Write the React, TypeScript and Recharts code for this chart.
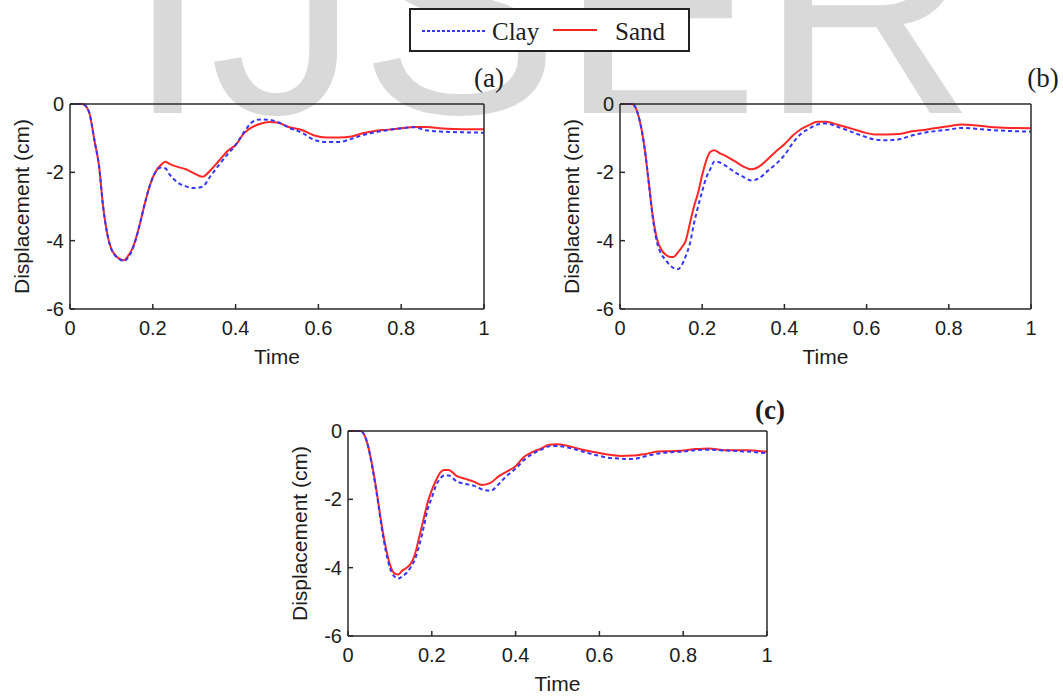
import React from "react";
import { LineChart, Line, XAxis, YAxis, Label } from "recharts";

// sample times shared by all three panels
const times = [
  0, 0.03, 0.045, 0.06, 0.07, 0.08, 0.09, 0.1, 0.11, 0.12,
  0.13, 0.14, 0.15, 0.16, 0.17, 0.18, 0.19, 0.2, 0.21, 0.22,
  0.23, 0.24, 0.26, 0.28, 0.3, 0.32, 0.34, 0.36, 0.38, 0.4,
  0.42, 0.44, 0.46, 0.48, 0.5, 0.53, 0.56, 0.59, 0.62, 0.65,
  0.68, 0.71, 0.74, 0.77, 0.8, 0.83, 0.86, 0.9, 0.95, 1.0,
];

const sandA = [
  0, 0, -0.2, -1.13, -1.8, -3.0, -3.8, -4.25, -4.43, -4.53,
  -4.57, -4.45, -4.25, -3.9, -3.45, -2.95, -2.5, -2.15, -1.92, -1.78,
  -1.69, -1.75, -1.84, -1.91, -2.03, -2.13, -1.93, -1.66, -1.38, -1.2,
  -0.86, -0.68, -0.58, -0.53, -0.54, -0.68, -0.76, -0.92, -0.98, -0.98,
  -0.95, -0.85, -0.78, -0.75, -0.71, -0.67, -0.67, -0.72, -0.74, -0.74,
];
const clayA = [
  0, 0, -0.2, -1.13, -1.8, -3.0, -3.8, -4.25, -4.45, -4.55,
  -4.6, -4.5, -4.28, -3.92, -3.45, -2.95, -2.5, -2.15, -1.93, -1.86,
  -1.88, -2.05, -2.3, -2.41, -2.46, -2.42, -2.1, -1.78, -1.48, -1.2,
  -0.83, -0.53, -0.45, -0.46, -0.52, -0.7, -0.84, -1.05, -1.11, -1.11,
  -1.02, -0.9, -0.82, -0.76, -0.71, -0.68, -0.77, -0.81, -0.83, -0.84,
];

const sandB = [
  0, 0, -0.35, -1.3, -2.3, -3.3, -3.95, -4.25, -4.4, -4.47,
  -4.48, -4.36, -4.2, -4.0, -3.5, -3.0, -2.6, -2.08, -1.65, -1.4,
  -1.35, -1.42, -1.54, -1.68, -1.83, -1.91, -1.82, -1.61, -1.38, -1.18,
  -0.93, -0.74, -0.62, -0.52, -0.52, -0.61, -0.71, -0.82, -0.89, -0.89,
  -0.88, -0.8, -0.76, -0.7, -0.65, -0.6, -0.62, -0.67, -0.7, -0.71,
];
const clayB = [
  0, 0, -0.35, -1.3, -2.3, -3.35, -4.05, -4.38, -4.55, -4.7,
  -4.8, -4.84, -4.72, -4.45, -4.09, -3.5, -3.0, -2.55, -2.15, -1.9,
  -1.68, -1.7, -1.83, -2.0, -2.13, -2.24, -2.16, -1.95, -1.75, -1.5,
  -1.15, -0.88, -0.72, -0.6, -0.57, -0.67, -0.8, -0.93, -1.04, -1.06,
  -1.03, -0.92, -0.84, -0.79, -0.75, -0.7, -0.72, -0.76, -0.79, -0.81,
];

const sandC = [
  0, 0, -0.31, -1.15, -1.9, -2.72, -3.4, -3.9, -4.16, -4.2,
  -4.08, -4.0, -3.88, -3.6, -3.1, -2.6, -2.1, -1.73, -1.45, -1.22,
  -1.14, -1.14, -1.32, -1.4, -1.48, -1.58, -1.52, -1.32, -1.18, -1.03,
  -0.76, -0.62, -0.52, -0.4, -0.39, -0.45, -0.55, -0.62, -0.69, -0.73,
  -0.72, -0.67, -0.6, -0.59, -0.57, -0.53, -0.51, -0.56, -0.56, -0.61,
];
const clayC = [
  0, 0, -0.31, -1.2, -1.95, -2.8, -3.5, -4.0, -4.25, -4.32,
  -4.25, -4.15, -3.98, -3.75, -3.35, -2.85, -2.3, -1.95, -1.6, -1.39,
  -1.3, -1.3, -1.48, -1.55, -1.6, -1.71, -1.75, -1.55, -1.3, -1.1,
  -0.85, -0.67, -0.55, -0.45, -0.44, -0.5, -0.6, -0.7, -0.78, -0.81,
  -0.82, -0.74, -0.66, -0.62, -0.6, -0.56, -0.55, -0.57, -0.6, -0.65,
];

const xTicks = [0, 0.2, 0.4, 0.6, 0.8, 1];
const yTicks = [-6, -4, -2, 0];

const CLAY = "#3535ff";
const SAND = "#ff2626";
const INK = "#1c1c1c";
const SANS = "'Liberation Sans', Arial, sans-serif";
const SERIF = "'Liberation Serif', 'Times New Roman', serif";

const axisStyle = { stroke: "#2a2a2a", strokeWidth: 1.5 };
const tickStyle = { stroke: "#2a2a2a", strokeWidth: 1.5 };
const tickText = { fontSize: 20, fill: INK, fontFamily: SANS };
const titleStyle = { fontSize: 21, fill: INK, fontFamily: SANS, textAnchor: "middle" as const };

interface PanelProps {
  clay: number[];
  sand: number[];
  left: number;
  top: number;
  width: number;
}

const Panel = ({ clay, sand, left, top, width }: PanelProps) => {
  const data = times.map((t, i) => ({ t, clay: clay[i], sand: sand[i] }));
  return (
    <div style={{ position: "absolute", left, top }}>
      <LineChart width={width} height={285} data={data} margin={{ top: 18, right: 10, bottom: 0, left: 0 }}>
        <XAxis
          dataKey="t"
          type="number"
          domain={[0, 1]}
          ticks={xTicks}
          interval={0}
          height={60}
          tickSize={-5}
          tickMargin={17}
          axisLine={axisStyle}
          tickLine={tickStyle}
          tick={tickText}
        >
          <Label value="Time" position="center" dy={18} style={titleStyle} />
        </XAxis>
        <XAxis
          xAxisId="top"
          orientation="top"
          dataKey="t"
          type="number"
          domain={[0, 1]}
          ticks={xTicks}
          interval={0}
          height={2}
          tickSize={-5}
          tick={false}
          axisLine={axisStyle}
          tickLine={tickStyle}
        />
        <YAxis
          type="number"
          domain={[-6, 0]}
          ticks={yTicks}
          interval={0}
          width={70}
          tickSize={-5}
          tickMargin={11}
          axisLine={axisStyle}
          tickLine={tickStyle}
          tick={tickText}
        >
          <Label value="Displacement (cm)" angle={-90} position="center" dx={-13} style={titleStyle} />
        </YAxis>
        <YAxis
          yAxisId="right"
          orientation="right"
          type="number"
          domain={[-6, 0]}
          ticks={yTicks}
          interval={0}
          width={2}
          tickSize={-5}
          tick={false}
          axisLine={axisStyle}
          tickLine={tickStyle}
        />
        <Line type="monotone" dataKey="sand" stroke={SAND} strokeWidth={2} dot={false} isAnimationActive={false} />
        <Line
          type="monotone"
          dataKey="clay"
          stroke={CLAY}
          strokeWidth={2}
          strokeDasharray="4 3"
          dot={false}
          isAnimationActive={false}
        />
      </LineChart>
    </div>
  );
};

export default function App() {
  return (
    <div style={{ position: "absolute", left: 0, top: 0, width: 1063, height: 696, overflow: "hidden", background: "#fff" }}>
      {/* watermark behind everything */}
      <svg width={1063} height={696} style={{ position: "absolute", left: 0, top: 0 }}>
        <text x={126} y={113} fontSize={300} fontFamily={SANS} fill="#d9d9d9">
          IJSER
        </text>
      </svg>

      <Panel clay={clayA} sand={sandA} left={0} top={84} width={496} />
      <Panel clay={clayB} sand={sandB} left={550} top={84} width={493} />
      <Panel clay={clayC} sand={sandC} left={278} top={411} width={501} />

      <svg width={1063} height={696} style={{ position: "absolute", left: 0, top: 0, pointerEvents: "none" }}>
        <rect x={410} y={9} width={279} height={42} fill="#fff" stroke="#222" strokeWidth={2} />
        <line x1={422} y1={31} x2={485} y2={31} stroke={CLAY} strokeWidth={2} strokeDasharray="3 2" />
        <text x={492} y={40} fontSize={25} fontFamily={SERIF} fill={INK}>
          Clay
        </text>
        <line x1={553} y1={30} x2={597} y2={30} stroke={SAND} strokeWidth={2} />
        <text x={615} y={40} fontSize={25} fontFamily={SERIF} fill={INK}>
          Sand
        </text>
        <text x={489} y={87} fontSize={27} fontFamily={SERIF} fill={INK} textAnchor="middle">
          (a)
        </text>
        <text x={1043} y={87} fontSize={27} fontFamily={SERIF} fill={INK} textAnchor="middle">
          (b)
        </text>
        <text x={770} y={419} fontSize={27} fontFamily={SERIF} fontWeight="bold" fill={INK} textAnchor="middle">
          (c)
        </text>
      </svg>
    </div>
  );
}
